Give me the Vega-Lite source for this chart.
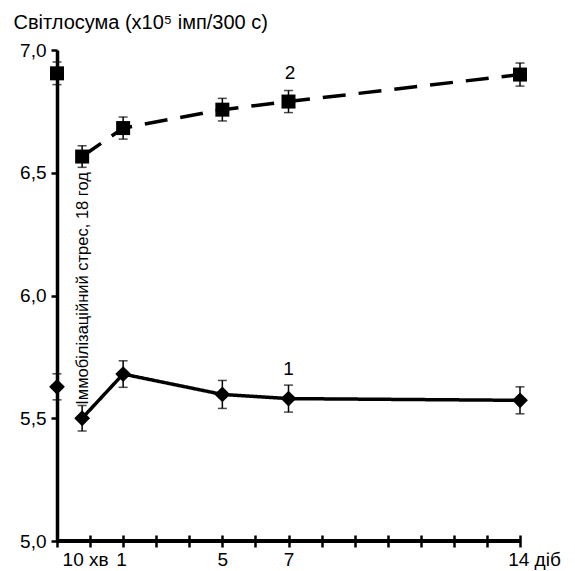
{
  "$schema": "https://vega.github.io/schema/vega-lite/v6.json",
  "width": 463,
  "height": 491,
  "autosize": {"type": "none"},
  "padding": {"left": 57, "top": 50, "right": 55, "bottom": 30},
  "background": "white",
  "config": {"view": {"stroke": null}, "font": "Liberation Sans"},
  "datasets": {
    "obs": [
      {"t": 0, "v": 5.628, "err": 0.053, "series": "1"},
      {"t": 0.76, "v": 5.5, "err": 0.052, "series": "1"},
      {"t": 2, "v": 5.68, "err": 0.054, "series": "1"},
      {"t": 5, "v": 5.597, "err": 0.057, "series": "1"},
      {"t": 7, "v": 5.58, "err": 0.055, "series": "1"},
      {"t": 14, "v": 5.573, "err": 0.055, "series": "1"},
      {"t": 0, "v": 6.905, "err": 0.046, "series": "2"},
      {"t": 0.76, "v": 6.566, "err": 0.044, "series": "2"},
      {"t": 2, "v": 6.682, "err": 0.045, "series": "2"},
      {"t": 5, "v": 6.757, "err": 0.046, "series": "2"},
      {"t": 7, "v": 6.79, "err": 0.045, "series": "2"},
      {"t": 14, "v": 6.9, "err": 0.047, "series": "2"}
    ],
    "labels": [
      {"t": 7.0, "v": 5.70, "text": "1"},
      {"t": 7.05, "v": 6.905, "text": "2"}
    ],
    "note": [
      {"t": 0.78, "v": 5.555, "text": "Іммобілізаційний стрес, 18 год"}
    ]
  },
  "encoding": {
    "x": {
      "field": "t", "type": "quantitative",
      "scale": {"domain": [0, 14], "nice": false},
      "axis": {
        "values": [0, 1, 2, 3, 4, 5, 6, 7, 8, 9, 10, 11, 12, 13, 14],
        "labelExpr": "datum.value == 1 ? '10 хв' : datum.value == 2 ? '1' : datum.value == 5 ? '5' : datum.value == 7 ? '7' : datum.value == 14 ? '14 діб' : ''",
        "title": null,
        "domain": false,
        "grid": false,
        "offset": -6,
        "tickSize": 12,
        "tickWidth": 2.5,
        "tickColor": "black",
        "labelColor": "black",
        "labelFontSize": 19,
        "labelFont": "Liberation Sans",
        "labelPadding": 3,
        "labelFlush": false,
        "labelOverlap": false,
        "labelOffset": {"condition": [{"test": "datum.value == 1", "value": -5}, {"test": "datum.value == 2", "value": -2}, {"test": "datum.value == 14", "value": 14}], "value": 0}
      }
    },
    "y": {
      "field": "v", "type": "quantitative",
      "scale": {"domain": [5, 7], "nice": false},
      "axis": {
        "values": [5, 5.5, 6, 6.5, 7],
        "labelExpr": "replace(format(datum.value, '.1f'), '.', ',')",
        "grid": false,
        "domainWidth": 3.5,
        "domainColor": "black",
        "tickSize": 6,
        "tickWidth": 2.5,
        "tickColor": "black",
        "labelColor": "black",
        "labelFontSize": 19,
        "labelFont": "Liberation Sans",
        "labelPadding": 5,
        "labelFlush": false,
        "labelOverlap": false,
        "title": "Світлосума (х10⁵ імп/300 с)",
        "titleAngle": 0,
        "titleX": -44,
        "titleY": -22,
        "titleAlign": "left",
        "titleBaseline": "alphabetic",
        "titleFontSize": 20,
        "titleFontWeight": "normal",
        "titleColor": "black",
        "titleFont": "Liberation Sans"
      }
    }
  },
  "layer": [
    {
      "data": {"name": "obs"},
      "mark": {
        "type": "errorbar",
        "color": "black",
        "ticks": {"size": 9, "thickness": 1.5, "color": "black"},
        "rule": {"strokeWidth": 1.5, "color": "black"}
      },
      "encoding": {
        "yError": {"field": "err"},
        "detail": {"field": "series"}
      }
    },
    {
      "data": {"name": "obs"},
      "transform": [{"filter": "datum.t > 0"}],
      "mark": {"type": "line", "strokeWidth": 3.5, "color": "black"},
      "encoding": {
        "detail": {"field": "series"},
        "strokeDash": {"field": "series", "type": "nominal", "scale": {"domain": ["1", "2"], "range": [[1, 0], [23, 13]]}, "legend": null}
      }
    },
    {
      "data": {"name": "obs"},
      "mark": {"type": "point", "filled": true, "opacity": 1, "color": "black"},
      "encoding": {
        "shape": {"field": "series", "type": "nominal", "scale": {"domain": ["1", "2"], "range": ["diamond", "square"]}, "legend": null},
        "size": {"field": "series", "type": "ordinal", "scale": {"domain": ["1", "2"], "range": [250, 196]}, "legend": null}
      }
    },
    {
      "data": {"name": "labels"},
      "mark": {"type": "text", "fontSize": 19, "color": "black", "font": "Liberation Sans"},
      "encoding": {
        "text": {"field": "text"}
      }
    },
    {
      "data": {"name": "note"},
      "mark": {"type": "text", "fontSize": 16.5, "color": "black", "font": "Liberation Sans", "angle": 270, "align": "left", "baseline": "middle"},
      "encoding": {
        "text": {"field": "text"}
      }
    },
    {
      "data": {"name": "obs"},
      "mark": {"type": "rule", "strokeWidth": 3.5, "color": "black"},
      "encoding": {
        "x": {"datum": 0, "type": "quantitative"},
        "x2": {"datum": 14},
        "y": {"datum": 5, "type": "quantitative"}
      }
    }
  ]
}
